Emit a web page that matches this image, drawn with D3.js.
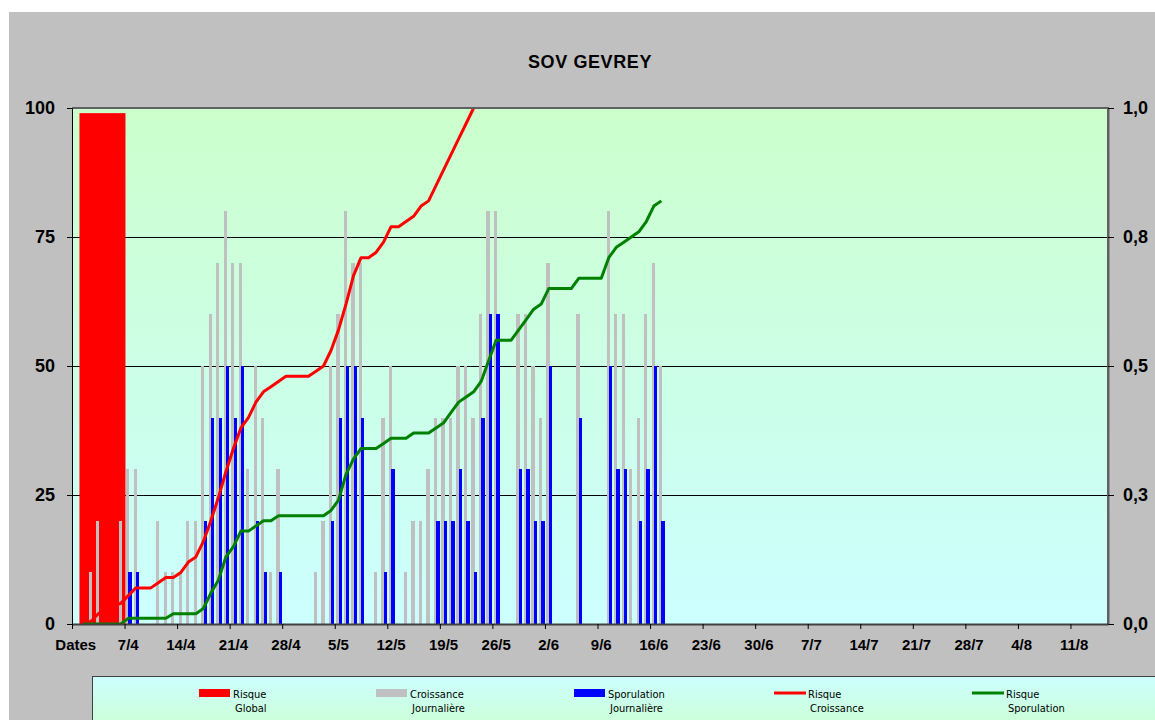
<!DOCTYPE html>
<html>
<head>
<meta charset="utf-8">
<title>SOV GEVREY</title>
<script src="https://d3js.org/d3.v7.min.js"></script>
<style>
  body { margin: 0; background: #fff; }
  text { font-family: "Liberation Sans", Arial, sans-serif; }
  .legend text { font-family: "Liberation Sans Narrow", "Arial Narrow", "DejaVu Sans Condensed", sans-serif; font-size: 11px; }
</style>
</head>
<body>
<div id="chart"></div>
<script>
var title = "SOV GEVREY";
var nDays = 138;   // "Dates" + 1/4 .. 16/8
var tickLabels = ["Dates","7/4","14/4","21/4","28/4","5/5","12/5","19/5","26/5","2/6","9/6",
                  "16/6","23/6","30/6","7/7","14/7","21/7","28/7","4/8","11/8"];
var leftTicks = [0, 25, 50, 75, 100];
var rightTicks = [0, 0.25, 0.5, 0.75, 1];
var rightTickLabels = ["0,0", "0,3", "0,5", "0,8", "1,0"];

var risqueGlobal = [99];

// daily values, index 0 = "Dates" column
var croissance = [0,0,10,20,0,0,20,30,30,0, 0,20,10,10,10,20,20,50,60,70,
                  80,70,70,30,50,40,10,30,0,0, 0,0,10,20,50,60,80,70,70,0,
                  10,40,50,0,10,20,20,30,40,40, 40,50,50,40,60,80,80,0,0,60,
                  60,50,40,70,0,0,0,60,0,0, 0,80,60,60,30,40,60,70,50];
var sporulation = [0,0,0,0,0,0,0,10,10,0, 0,0,0,0,0,0,0,20,40,40,
                   50,40,50,0,20,10,0,10,0,0, 0,0,0,0,20,40,50,50,40,0,
                   0,10,30,0,0,0,0,0,20,20, 20,30,20,10,40,60,60,0,0,30,
                   30,20,20,50,0,0,0,40,0,0, 0,50,30,30,0,20,30,50,20];
var risqueCroissance = [null,0,0.005,0.02,0.03,0.035,0.04,0.055,0.07,0.07,
                        0.07,0.08,0.09,0.09,0.10,0.12,0.13,0.16,0.20,0.245,
                        0.295,0.34,0.38,0.40,0.43,0.45,0.46,0.47,0.48,0.48,
                        0.48,0.48,0.49,0.50,0.53,0.57,0.62,0.675,0.71,0.71,
                        0.72,0.74,0.77,0.77,0.78,0.79,0.81,0.82,0.85,0.88,
                        0.91,0.94,0.97,1.0,1.03];
var risqueSporulation = [null,0,0,0,0,0,0,0.011,0.011,0.011,
                         0.011,0.011,0.011,0.02,0.02,0.02,0.02,0.03,0.06,0.085,
                         0.13,0.15,0.18,0.18,0.19,0.20,0.20,0.21,0.21,0.21,
                         0.21,0.21,0.21,0.21,0.22,0.24,0.29,0.32,0.34,0.34,
                         0.34,0.35,0.36,0.36,0.36,0.37,0.37,0.37,0.38,0.39,
                         0.41,0.43,0.44,0.45,0.47,0.51,0.55,0.55,0.55,0.57,
                         0.59,0.61,0.62,0.65,0.65,0.65,0.65,0.67,0.67,0.67,
                         0.67,0.71,0.73,0.74,0.75,0.76,0.78,0.81,0.82];

var legendLabels = [["Risque","Global"],["Croissance","Journalière"],["Sporulation","Journalière"],
                    ["Risque","Croissance"],["Risque","Sporulation"]];
var legendColors = ["#ff0000","#c0c0c0","#0000ff","#ff0000","#008000"];
var legendKinds = ["bar","bar","bar","line","line"];

var W = 1155, H = 720;
var m = {left: 72, top: 108, right: 1108, bottom: 624};

var svg = d3.select('#chart').append('svg')
    .attr('width', W)
    .attr('height', H);

var defs = svg.append('defs');
var g1 = defs.append('linearGradient').attr('id', 'plotBg')
    .attr('x1', 0).attr('y1', 0).attr('x2', 0).attr('y2', 1);
g1.append('stop').attr('offset', '0%').attr('stop-color', '#ccffcc');
g1.append('stop').attr('offset', '100%').attr('stop-color', '#ccffff');
var g2 = defs.append('linearGradient').attr('id', 'legBg')
    .attr('x1', 0).attr('y1', 0).attr('x2', 0).attr('y2', 1);
g2.append('stop').attr('offset', '0%').attr('stop-color', '#ccffff');
g2.append('stop').attr('offset', '100%').attr('stop-color', '#ccffcc');
defs.append('clipPath').attr('id', 'plotClip')
  .append('rect')
    .attr('x', m.left).attr('y', m.top)
    .attr('width', m.right - m.left).attr('height', m.bottom - m.top);

// chart area
svg.append('rect')
    .attr('x', 9).attr('y', 12)
    .attr('width', W - 9).attr('height', H - 12)
    .attr('fill', '#c0c0c0');

var x = d3.scaleBand().domain(d3.range(nDays)).range([m.left, m.right]);
var xl = d3.scaleLinear().domain([0, nDays]).range([m.left, m.right]);
var xg = d3.scaleBand().domain(d3.range(17)).range([m.left, m.right])
    .paddingInner(0.245).paddingOuter(0.1225);
var y = d3.scaleLinear().domain([0, 100]).range([m.bottom, m.top]);
var y2 = d3.scaleLinear().domain([0, 1]).range([m.bottom, m.top]);
var step = x.step();

// plot area
svg.append('rect')
    .attr('x', m.left).attr('y', m.top)
    .attr('width', m.right - m.left).attr('height', m.bottom - m.top)
    .attr('fill', 'url(#plotBg)');

// gridlines
svg.append('g').selectAll('line')
    .data([25, 50, 75])
    .enter().append('line')
    .attr('x1', m.left).attr('x2', m.right)
    .attr('y1', function(d) { return y(d) + 0.5; })
    .attr('y2', function(d) { return y(d) + 0.5; })
    .attr('stroke', '#000').attr('stroke-width', 1);

// Risque Global
svg.append('g').selectAll('rect')
    .data(risqueGlobal)
    .enter().append('rect')
    .attr('x', function(d, i) { return xg(i); })
    .attr('width', xg.bandwidth())
    .attr('y', function(d) { return y(d); })
    .attr('height', function(d) { return y(0) - y(d); })
    .attr('fill', '#ff0000');

// daily bars, grey then blue inside each day
var sub = d3.scalePoint().domain(['c', 's']).range([0.2 * step, 0.52 * step]);
var bw = 0.44 * step;

svg.append('g').attr('shape-rendering', 'crispEdges').selectAll('rect')
    .data(croissance.map(function(v, i) { return {i: i, v: v}; }).filter(function(d) { return d.v > 0; }))
    .enter().append('rect')
    .attr('x', function(d) { return x(d.i) + sub('c'); })
    .attr('width', bw)
    .attr('y', function(d) { return y(d.v); })
    .attr('height', function(d) { return y(0) - y(d.v); })
    .attr('fill', '#c0c0c0');
svg.append('g').attr('shape-rendering', 'crispEdges').selectAll('rect')
    .data(sporulation.map(function(v, i) { return {i: i, v: v}; }).filter(function(d) { return d.v > 0; }))
    .enter().append('rect')
    .attr('x', function(d) { return x(d.i) + sub('s'); })
    .attr('width', bw)
    .attr('y', function(d) { return y(d.v); })
    .attr('height', function(d) { return y(0) - y(d.v); })
    .attr('fill', '#0000ff');

// risk lines (secondary axis)
var line = d3.line()
    .defined(function(d) { return d !== null; })
    .x(function(d, i) { return x(i) + step / 2; })
    .y(function(d) { return y2(d); });
var lines = svg.append('g').attr('clip-path', 'url(#plotClip)');
lines.append('path').datum(risqueCroissance)
    .attr('d', line).attr('fill', 'none')
    .attr('stroke', '#ff0000').attr('stroke-width', 3).attr('stroke-linejoin', 'round');
lines.append('path').datum(risqueSporulation)
    .attr('d', line).attr('fill', 'none')
    .attr('stroke', '#008000').attr('stroke-width', 3).attr('stroke-linejoin', 'round');

// plot border top/right
svg.append('path')
    .attr('d', 'M' + m.left + ',' + m.top + 'H' + m.right + 'V' + m.bottom)
    .attr('fill', 'none').attr('stroke', '#606060').attr('stroke-width', 2);

// left axis
var ax = svg.append('g').attr('transform', 'translate(' + m.left + ',0)')
    .call(d3.axisLeft(y).tickValues(leftTicks).tickSize(5).tickPadding(12).tickSizeOuter(0));
ax.select('.domain').attr('stroke', '#000');
ax.selectAll('text').attr('font-size', 18).attr('font-weight', 'bold').attr('fill', '#000')
    .attr('font-family', '"Liberation Sans", Arial, sans-serif');

// right axis
var ar = svg.append('g').attr('transform', 'translate(' + m.right + ',0)')
    .call(d3.axisRight(y2).tickValues(rightTicks).tickSize(6).tickPadding(9).tickSizeOuter(0)
      .tickFormat(function(d, i) { return rightTickLabels[i]; }));
ar.select('.domain').attr('stroke', '#606060').attr('stroke-width', 2);
ar.selectAll('text').attr('font-size', 18).attr('font-weight', 'bold').attr('fill', '#000')
    .attr('font-family', '"Liberation Sans", Arial, sans-serif');

// bottom axis
var ab = svg.append('g').attr('transform', 'translate(0,' + m.bottom + ')')
    .call(d3.axisBottom(xl).tickValues(d3.range(0, nDays, 7)).tickSize(5).tickSizeOuter(0).tickFormat(''));
ab.select('.domain').attr('stroke', '#404040').attr('stroke-width', 2);
svg.append('g').selectAll('text')
    .data(tickLabels)
    .enter().append('text')
    .attr('x', function(d, i) { return x(i * 7) + step / 2; })
    .attr('y', 650)
    .attr('text-anchor', 'middle')
    .attr('font-size', 15).attr('font-weight', 'bold')
    .text(function(d) { return d; });

// title
svg.append('text')
    .attr('x', (m.left + m.right) / 2).attr('y', 68)
    .attr('text-anchor', 'middle')
    .attr('font-size', 18).attr('font-weight', 'bold')
    .attr('letter-spacing', 0.6)
    .text(title);

// legend
var legX = [199, 376, 574, 774, 972];
var leg = svg.append('g').attr('class', 'legend');
leg.append('rect')
    .attr('x', 92.5).attr('y', 676.5).attr('width', W).attr('height', 60)
    .attr('fill', 'url(#legBg)').attr('stroke', '#404040');
var items = leg.selectAll('g.item').data(legendLabels).enter().append('g').attr('class', 'item')
    .attr('transform', function(d, i) { return 'translate(' + legX[i] + ',0)'; });
items.each(function(d, i) {
  var g = d3.select(this);
  if (legendKinds[i] === 'bar') {
    g.append('rect').attr('x', 0).attr('y', 689).attr('width', 31).attr('height', 8)
      .attr('fill', legendColors[i]);
  } else {
    g.append('line').attr('x1', 0).attr('x2', 32).attr('y1', 693).attr('y2', 693)
      .attr('stroke', legendColors[i]).attr('stroke-width', 3);
  }
  g.append('text').attr('x', 34).attr('y', 698).text(d[0]);
  g.append('text').attr('x', 36).attr('y', 712).text(d[1]);
});
</script>
</body>
</html>
